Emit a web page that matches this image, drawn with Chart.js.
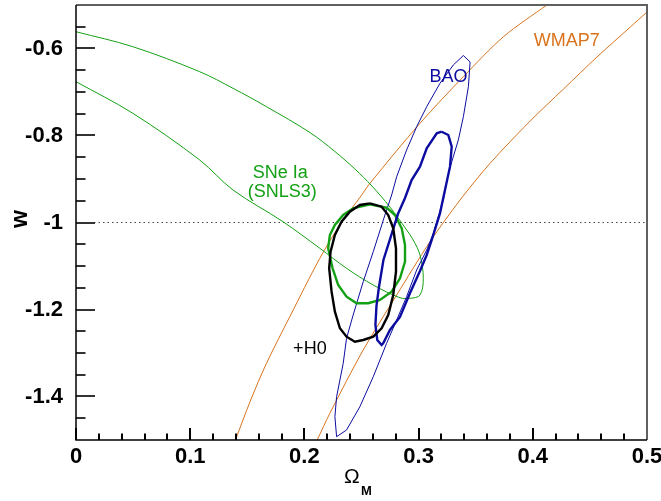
<!DOCTYPE html>
<html>
<head>
<meta charset="utf-8">
<script src="https://cdn.jsdelivr.net/npm/chart.js@4.4.1/dist/chart.umd.min.js"></script>
<style>
  html, body { margin: 0; padding: 0; background: #fff; }
</style>
</head>
<body>
<canvas id="chart" width="661" height="501"></canvas>
<script>
// axis ticks
var xTicks = [0, 0.1, 0.2, 0.3, 0.4, 0.5];
var yTicks = [-1.4, -1.2, -1, -0.8, -0.6];

// WMAP7 band edges (Omega_M, w)
var wmapLeft = [[0.1396, -1.5], [0.1530, -1.4080], [0.1668, -1.3237], [0.1872, -1.2166], [0.2135, -1.0823],
    [0.2311, -1.0057], [0.2501, -0.9368], [0.2574, -0.9099], [0.3012, -0.7720], [0.3392, -0.6648],
    [0.3743, -0.5729], [0.4123, -0.5]];
var wmapRight = [[0.2112, -1.5], [0.2223, -1.4386], [0.2515, -1.2931], [0.2808, -1.1667], [0.3100, -1.0441],
    [0.3363, -0.9483], [0.3626, -0.8639], [0.3977, -0.7667], [0.4269, -0.6931], [0.4562, -0.6195],
    [0.4854, -0.5506], [0.5, -0.5161]];

// SNe Ia (SNLS3) contour
var sneOuter = [[0, -0.5614], [0.0498, -0.5959], [0.1083, -0.6533], [0.1375, -0.6915], [0.1668, -0.7338],
    [0.2048, -0.7931], [0.2267, -0.8368], [0.2442, -0.8770], [0.2591, -0.9161], [0.2749, -0.9644],
    [0.2889, -1.0149], [0.2953, -1.0402], [0.3012, -1.0747], [0.3041, -1.1283], [0.3012, -1.1667],
    [0.2924, -1.1743], [0.2837, -1.1729], [0.2603, -1.1437], [0.2369, -1.1053], [0.2135, -1.0593],
    [0.1813, -0.9982], [0.1375, -0.9253], [0.1083, -0.8563], [0.0498, -0.7490], [0, -0.6763]];
var sneInner = [[0.2574, -0.9582], [0.2720, -0.9660], [0.2793, -0.9828], [0.2852, -1.0133], [0.2881, -1.0517],
    [0.2881, -1.0901], [0.2837, -1.1283], [0.2764, -1.1591], [0.2661, -1.1782], [0.2559, -1.1857],
    [0.2457, -1.1857], [0.2369, -1.1706], [0.2296, -1.1437], [0.2247, -1.1053], [0.2208, -1.0593],
    [0.2223, -1.0287], [0.2267, -1.0057], [0.2340, -0.9828], [0.2427, -0.9674], [0.2574, -0.9582]];

// BAO contours
var baoOuter = [[0.3392, -0.6161], [0.3451, -0.6310], [0.3436, -0.6878], [0.3392, -0.7568], [0.3348, -0.8103],
    [0.3290, -0.8609], [0.3258, -0.8908], [0.3216, -0.9483], [0.3129, -1.0248], [0.3071, -1.0632],
    [0.2983, -1.1092], [0.2895, -1.1706], [0.2808, -1.2241], [0.2720, -1.2777], [0.2603, -1.3545],
    [0.2486, -1.4234], [0.2369, -1.4770], [0.2282, -1.4924], [0.2267, -1.4464], [0.2282, -1.4005],
    [0.2340, -1.3237], [0.2369, -1.2662], [0.2427, -1.2126], [0.2515, -1.1361], [0.2603, -1.0671],
    [0.2705, -0.9828], [0.2764, -0.9368], [0.2808, -0.8947], [0.2895, -0.8333], [0.2983, -0.7798],
    [0.3071, -0.7338], [0.3187, -0.6800], [0.3304, -0.6379], [0.3392, -0.6161]];
var baoInner = [[0.3202, -0.7913], [0.3260, -0.7989], [0.3290, -0.8257], [0.3275, -0.8717], [0.3231, -0.9253],
    [0.3187, -0.9789], [0.3115, -1.0402], [0.3071, -1.0747], [0.3012, -1.1115], [0.2924, -1.1628],
    [0.2837, -1.2172], [0.2749, -1.2471], [0.2690, -1.2777], [0.2676, -1.2816], [0.2638, -1.2701],
    [0.2622, -1.2356], [0.2631, -1.1920], [0.2653, -1.1483], [0.2692, -1.0862], [0.2767, -1.0241],
    [0.2819, -0.9805], [0.2881, -0.9437], [0.2939, -0.9023], [0.3012, -0.8717], [0.3071, -0.8294],
    [0.3159, -0.7949], [0.3202, -0.7913]];

// combined +H0 contour
var combined = [[0.2574, -0.9559], [0.2676, -0.9637], [0.2734, -0.9828], [0.2778, -1.0133], [0.2802, -1.0593],
    [0.2802, -1.1131], [0.2778, -1.1667], [0.2734, -1.2126], [0.2676, -1.2432], [0.2603, -1.2625],
    [0.2515, -1.2701], [0.2442, -1.2740], [0.2369, -1.2625], [0.2311, -1.2432], [0.2267, -1.2051],
    [0.2238, -1.1591], [0.2217, -1.1053], [0.2229, -1.0671], [0.2267, -1.0287], [0.2325, -0.9982],
    [0.2398, -0.9752], [0.2486, -0.9598], [0.2574, -0.9559]];

var wLine = [[0, -1], [0.5, -1]];

var labels = ['WMAP7', 'BAO', 'SNe Ia', '(SNLS3)', '+H0'];

var orange = '#d8731c';
var green = '#14a014';
var blue = '#0c0ca0';

function curve(points, color, width, tension, dash) {
    return {
        data: points.map(p => ({x: p[0], y: p[1]})),
        borderColor: color,
        borderWidth: width,
        borderDash: dash || [],
        showLine: true,
        pointRadius: 0,
        fill: false,
        tension: tension || 0
    };
}

var FONT = '"Liberation Sans", Arial, Helvetica, sans-serif';

function tickLine(ctx, x1, y1, x2, y2) {
    ctx.beginPath();
    ctx.moveTo(x1, y1);
    ctx.lineTo(x2, y2);
    ctx.stroke();
}

var decor = {
    id: 'decor',
    afterDraw(chart) {
        var ctx = chart.ctx;
        var xs = chart.scales.x, ys = chart.scales.y;
        var a = chart.chartArea;
        ctx.save();
        ctx.setLineDash([]);

        // text labels
        ctx.textAlign = 'center';
        ctx.textBaseline = 'middle';
        ctx.font = '18px ' + FONT;
        ctx.fillStyle = orange;
        ctx.fillText(labels[0], xs.getPixelForValue(0.4297), ys.getPixelForValue(-0.5839));
        ctx.fillStyle = blue;
        ctx.fillText(labels[1], xs.getPixelForValue(0.3262), ys.getPixelForValue(-0.6655));
        ctx.fillStyle = green;
        ctx.fillText(labels[2], xs.getPixelForValue(0.1789), ys.getPixelForValue(-0.8874));
        ctx.fillText(labels[3], xs.getPixelForValue(0.1806), ys.getPixelForValue(-0.9310));
        ctx.fillStyle = '#000';
        ctx.fillText(labels[4], xs.getPixelForValue(0.2048), ys.getPixelForValue(-1.2908));

        // inward tick marks
        ctx.strokeStyle = '#000';
        ctx.lineWidth = 2;
        for (var i = 0; i <= 25; i++) {
            var px = Math.round(xs.getPixelForValue(i * 0.02));
            var len = (i % 5 === 0) ? 12 : 6.5;
            tickLine(ctx, px, a.bottom, px, a.bottom - len);
        }
        ctx.strokeStyle = '#333';
        for (var j = 1; j < 20; j++) {
            var py = Math.round(ys.getPixelForValue(-1.5 + j * 0.05));
            var ylen = (j % 4 === 2) ? 19 : 9.5;
            tickLine(ctx, a.left, py, a.left + ylen, py);
        }

        // frame: top/right grey, left/bottom black
        ctx.lineWidth = 2;
        ctx.strokeStyle = '#606060';
        ctx.beginPath();
        ctx.moveTo(a.left, a.top);
        ctx.lineTo(a.right, a.top);
        ctx.lineTo(a.right, a.bottom);
        ctx.stroke();
        ctx.strokeStyle = '#000';
        ctx.lineWidth = 1.5;
        ctx.beginPath();
        ctx.moveTo(a.left, a.top);
        ctx.lineTo(a.left, a.bottom);
        ctx.lineTo(a.right, a.bottom);
        ctx.stroke();

        // axis titles
        ctx.fillStyle = '#000';
        ctx.textAlign = 'left';
        ctx.textBaseline = 'alphabetic';
        ctx.font = '21px ' + FONT;
        ctx.fillText('\u03A9', 344, 483);
        ctx.font = 'bold 13px ' + FONT;
        ctx.fillText('M', 361, 495);

        ctx.translate(27, 219);
        ctx.rotate(-Math.PI / 2);
        ctx.textAlign = 'center';
        ctx.font = 'bold 23px ' + FONT;
        ctx.fillText('w', 0, 0);
        ctx.restore();
    }
};

new Chart(document.getElementById('chart').getContext('2d'), {
    type: 'scatter',
    data: {
        datasets: [
            curve(combined, '#000', 2.4),
            curve(baoInner, blue, 2.4),
            curve(sneInner, green, 2.4),
            curve(baoOuter, blue, 1),
            curve(sneOuter, green, 1, 0.35),
            curve(wmapLeft, orange, 1, 0.3),
            curve(wmapRight, orange, 1, 0.3),
            curve(wLine, '#444', 1, 0, [1.5, 3])
        ]
    },
    options: {
        responsive: false,
        animation: false,
        layout: {padding: {top: 5, right: 14, left: 0, bottom: 0}},
        plugins: {legend: {display: false}, tooltip: {enabled: false}},
        scales: {
            x: {
                type: 'linear',
                min: 0,
                max: 0.5,
                grid: {display: false, drawTicks: false},
                border: {display: false},
                afterBuildTicks: s => { s.ticks = xTicks.map(v => ({value: v})); },
                afterFit: s => { s.height = 61; s.paddingLeft = 0; s.paddingRight = 0; },
                ticks: {
                    color: '#000',
                    padding: 4,
                    maxRotation: 0,
                    font: {family: FONT, size: 22, weight: 'bold'},
                    callback: v => String(v)
                }
            },
            y: {
                type: 'linear',
                min: -1.5,
                max: -0.5,
                grid: {display: false, drawTicks: false},
                border: {display: false},
                afterBuildTicks: s => { s.ticks = yTicks.map(v => ({value: v})); },
                afterFit: s => { s.width = 76; s.paddingTop = 0; s.paddingBottom = 0; },
                ticks: {
                    color: '#000',
                    padding: 13,
                    font: {family: FONT, size: 22, weight: 'bold'},
                    callback: v => String(v)
                }
            }
        }
    },
    plugins: [decor]
});
</script>
</body>
</html>
